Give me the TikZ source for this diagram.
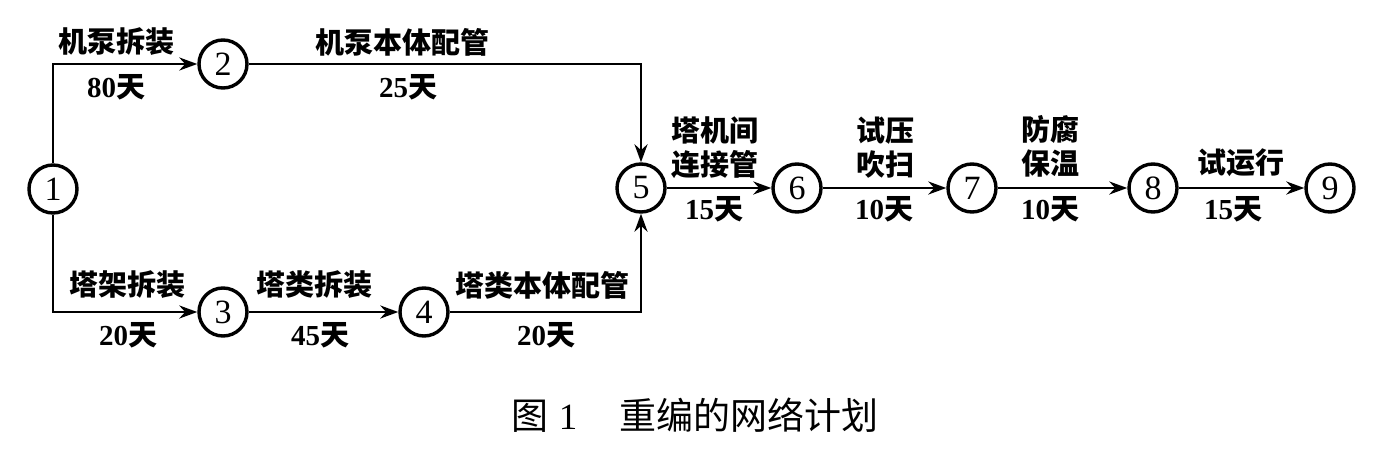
\documentclass[tikz,border=0pt]{standalone}
\usepackage{fontspec}
\setmainfont{Liberation Serif}
\newfontfamily\cjk{Noto Sans CJK SC}
\usetikzlibrary{arrows.meta}
\tikzset{
  ev/.style={circle, draw, line width=1.7pt, minimum size=24pt, inner sep=0pt,
    font=\fontsize{17}{19}\selectfont},
  act/.style={line width=1.4pt, -{Stealth[length=9pt,width=6.5pt]}},
  lbl/.style={inner sep=0pt, align=center, font=\fontsize{14.5}{16}\selectfont\bfseries},
}
\newcommand{\zh}[1]{{\cjk\bfseries #1}}
\begin{document}
\begin{tikzpicture}[x=0.5pt,y=-0.5pt]
\useasboundingbox[fill=white] (0,0) rectangle (1375,455);
% events
\node[ev] (n1) at (53,189) {1};
\node[ev] (n2) at (223,64) {2};
\node[ev] (n3) at (223,312) {3};
\node[ev] (n4) at (424,312) {4};
\node[ev] (n5) at (641,188) {5};
\node[ev] (n6) at (797,188) {6};
\node[ev] (n7) at (972,188) {7};
\node[ev] (n8) at (1153,188) {8};
\node[ev] (n9) at (1330,188) {9};
% activities
\draw[act] (n1) |- (n2);
\draw[act] (n2) -| (n5);
\draw[act] (n1) |- (n3);
\draw[act] (n3) -- (n4);
\draw[act] (n4) -| (n5);
\draw[act] (n5) -- (n6);
\draw[act] (n6) -- (n7);
\draw[act] (n7) -- (n8);
\draw[act] (n8) -- (n9);
% labels
\node[lbl] (a12) at (116,42) {\zh{机泵拆装}};
\node[lbl] (d12) at (116,87) {80\zh{天}};
\node[lbl] (a25) at (402,42) {\zh{机泵本体配管}};
\node[lbl] (d25) at (408,87) {25\zh{天}};
\node[lbl] (a13) at (127,285) {\zh{塔架拆装}};
\node[lbl] (d13) at (128,335) {20\zh{天}};
\node[lbl] (a34) at (314,285) {\zh{塔类拆装}};
\node[lbl] (d34) at (320,335) {45\zh{天}};
\node[lbl] (a45) at (542,285) {\zh{塔类本体配管}};
\node[lbl] (d45) at (546,335) {20\zh{天}};
\node[lbl] (a56) at (715,148) {\zh{塔机间}\\[1pt]\zh{连接管}};
\node[lbl] (d56) at (714,209) {15\zh{天}};
\node[lbl] (a67) at (885,148) {\zh{试压}\\[1pt]\zh{吹扫}};
\node[lbl] (d67) at (884,209) {10\zh{天}};
\node[lbl] (a78) at (1050,146) {\zh{防腐}\\[1pt]\zh{保温}};
\node[lbl] (d78) at (1050,209) {10\zh{天}};
\node[lbl] (a89) at (1241,163) {\zh{试运行}};
\node[lbl] (d89) at (1233,209) {15\zh{天}};
% caption
\node[inner sep=0pt, font=\fontsize{18.5}{20}\selectfont] (cap) at (695,415)
  {{\cjk 图}\hspace{5pt}1\hspace{21pt}{\cjk 重编的网络计划}};
\end{tikzpicture}
\end{document}
